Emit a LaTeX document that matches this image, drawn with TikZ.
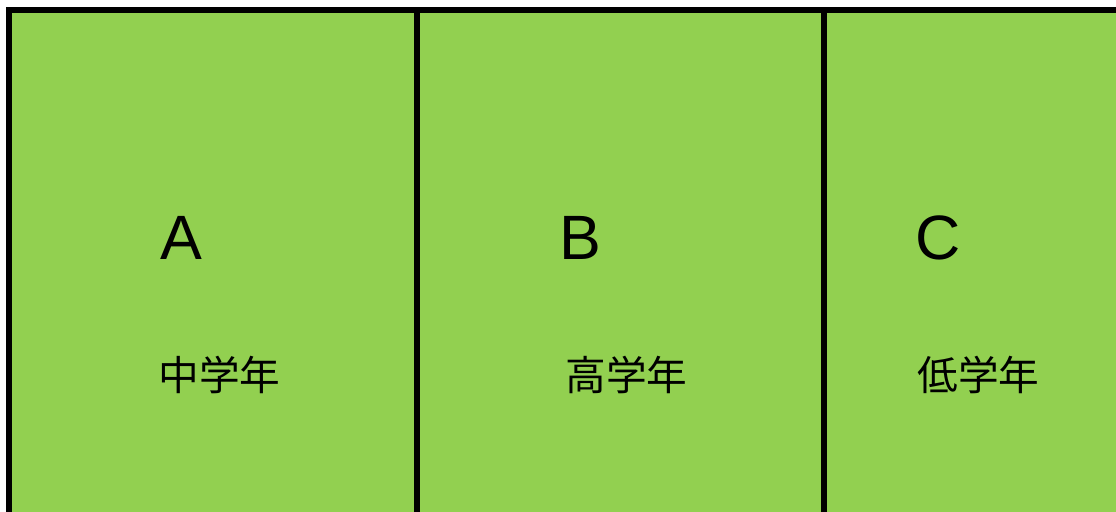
\documentclass[tikz,border=0pt]{standalone}
\usepackage{fontspec}
\setmainfont{Liberation Sans}
\newfontfamily\cjk{Noto Sans CJK JP}
\definecolor{fieldgreen}{HTML}{92D050}
\tikzset{
  letter/.style={anchor=base west,inner sep=0pt,font=\fontsize{47}{47}\selectfont},
  grade/.style={anchor=center,inner sep=0pt,font=\cjk\fontsize{30.5}{31}\selectfont}
}
\begin{document}
\begin{tikzpicture}[x=0.75pt,y=-0.75pt]
        \clip (0,0) rectangle (1116,511);
        % field
        \fill[fieldgreen] (9,10) rectangle (1240,530);
        % frame and dividers
        \draw[line width=4.5pt] (9,530) -- (9,10) -- (1240,10);
        \draw[line width=4.5pt] (417,10) -- (417,530);
        \draw[line width=4.5pt] (824,10) -- (824,530);
        % zone A
        \node[letter] (lettera) at (160,259) {A};
        \node[grade] (gradea) at (219.5,374.5) {\cjk 中学年};
        % zone B
        \node[letter] (letterb) at (559,259) {B};
        \node[grade] (gradeb) at (626.5,374.5) {\cjk 高学年};
        % zone C
        \node[letter] (letterc) at (915,259) {C};
        \node[grade] (gradec) at (978.5,374.5) {\cjk 低学年};
\end{tikzpicture}
\end{document}
